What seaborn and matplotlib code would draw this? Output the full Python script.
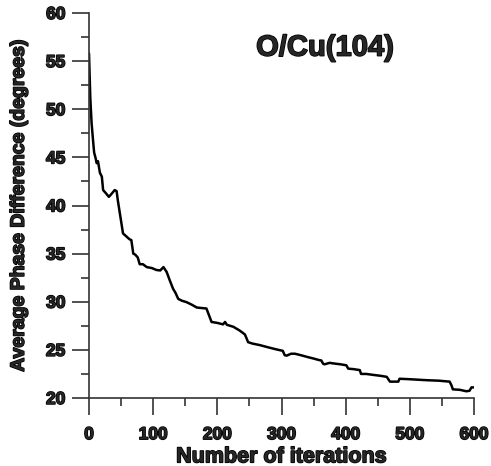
import matplotlib
matplotlib.use('Agg')
import matplotlib.pyplot as plt
import matplotlib.patheffects as pe
import seaborn as sns
import pandas as pd
from matplotlib.ticker import MultipleLocator

# values
iterations = [0, 1, 2, 4, 6, 8, 10, 12, 14, 17, 20, 22, 26, 31, 35, 40, 43, 45,
              49, 53, 58, 63, 66, 69, 72, 76, 79, 84, 90, 98, 105, 111, 116, 121,
              126, 131, 135, 139, 145, 152, 160, 168, 175, 183, 187, 191, 200,
              209, 212, 215, 225, 235, 243, 248, 255, 266, 280, 292, 302, 305,
              308, 315, 321, 330, 341, 350, 358, 362, 365, 367, 375, 380, 392,
              401, 404, 412, 422, 424, 432, 443, 455, 464, 469, 475, 482, 484,
              500, 526, 545, 562, 565, 567, 578, 588, 593, 596, 600]
phase_diff = [55.8, 53.5, 51.2, 48.6, 47.0, 45.5, 45.0, 44.4, 44.6, 43.4, 43.0,
              41.6, 41.3, 40.9, 41.2, 41.6, 41.5, 40.5, 38.8, 37.1, 36.8, 36.5,
              36.4, 35.0, 34.9, 34.6, 33.9, 33.9, 33.6, 33.5, 33.3, 33.25, 33.6,
              33.1, 32.2, 31.35, 30.9, 30.3, 30.1, 29.96, 29.7, 29.4, 29.35,
              29.3, 28.6, 27.9, 27.8, 27.65, 27.9, 27.6, 27.4, 27.0, 26.6, 25.8,
              25.65, 25.5, 25.25, 25.05, 24.9, 24.45, 24.4, 24.6, 24.6, 24.45,
              24.25, 24.1, 23.95, 23.9, 23.55, 23.5, 23.65, 23.6, 23.5, 23.4,
              23.05, 23.0, 22.9, 22.5, 22.5, 22.4, 22.3, 22.2, 21.7, 21.7, 21.7,
              22.0, 21.95, 21.85, 21.8, 21.7, 21.3, 20.9, 20.85, 20.7, 20.75,
              21.1, 21.1]

df = pd.DataFrame({'iter': iterations, 'phase': phase_diff})

sns.set_style('ticks')
plt.rcParams['font.family'] = ['Liberation Sans', 'DejaVu Sans']
plt.rcParams['font.weight'] = 'bold'

# fake a heavier (Arial Black like) weight with a thin outline
heavy = [pe.withStroke(linewidth=1.1, foreground='black')]

fig = plt.figure(figsize=(4.91, 4.66), dpi=100)
ax = fig.add_axes([89 / 491, 68 / 466, 385 / 491, 385 / 466])

sns.lineplot(data=df, x='iter', y='phase', ax=ax, color='black', linewidth=1.8)

ax.set_xlim(0, 600)
ax.set_ylim(20, 60)
ax.xaxis.set_major_locator(MultipleLocator(100))
ax.xaxis.set_minor_locator(MultipleLocator(50))
ax.yaxis.set_major_locator(MultipleLocator(5))
ax.yaxis.set_minor_locator(MultipleLocator(2.5))
ax.tick_params(which='major', length=12, width=1.2, direction='out',
               labelsize=12.5, color='#333333')
ax.tick_params(axis='x', which='major', pad=9)
ax.tick_params(axis='y', which='major', pad=5)
ax.tick_params(which='minor', length=6, width=1.2, direction='out', color='#333333')
for lbl in ax.get_xticklabels() + ax.get_yticklabels():
    lbl.set_fontweight('bold')
    lbl.set_path_effects(heavy)

sns.despine(ax=ax)
for side in ['left', 'bottom']:
    ax.spines[side].set_linewidth(1.2)
    ax.spines[side].set_color('#333333')

ax.set_xlabel('Number of iterations', fontsize=15.5, fontweight='bold',
              labelpad=3, path_effects=heavy)
ax.set_ylabel('Average Phase Difference (degrees)', fontsize=14,
              fontweight='bold', labelpad=13, path_effects=heavy)
ax.text(0.613, 0.91, 'O/Cu(104)', transform=ax.transAxes, fontsize=21,
        fontweight='bold', ha='center', va='center', path_effects=heavy)

fig.savefig('out.png', dpi=100)
